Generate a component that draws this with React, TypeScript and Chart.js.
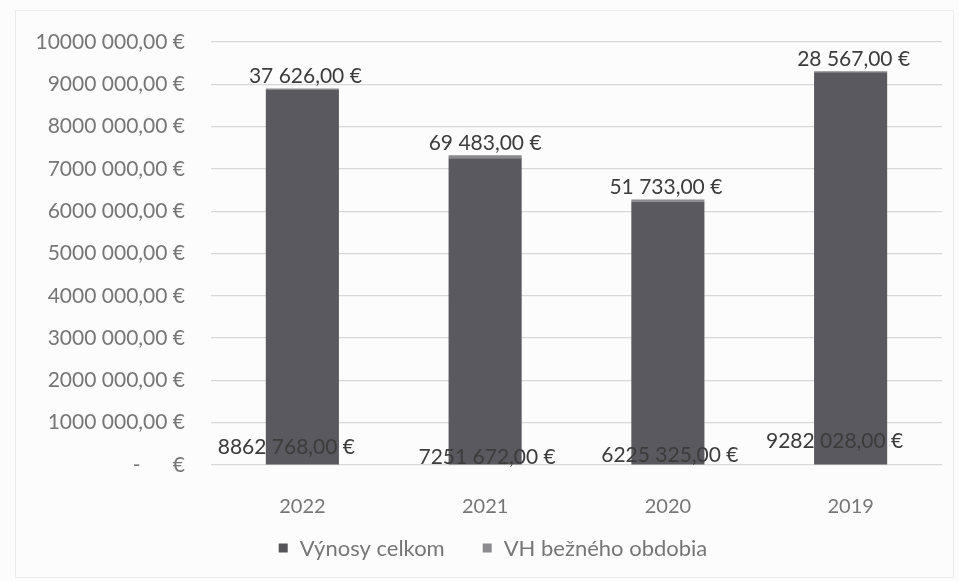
import React, { useEffect, useRef } from "react";
import { Chart, registerables } from "chart.js";

Chart.register(...registerables);

// ---- data ----
const categories = ["2022", "2021", "2020", "2019"];
const seriesNames = ["Výnosy celkom", "VH bežného obdobia"];
const revenues = [8862768, 7251672, 6225325, 9282028];
const profits = [37626, 69483, 51733, 28567];
const yTickLabels = [
  "-      €",
  "1000 000,00 €",
  "2000 000,00 €",
  "3000 000,00 €",
  "4000 000,00 €",
  "5000 000,00 €",
  "6000 000,00 €",
  "7000 000,00 €",
  "8000 000,00 €",
  "9000 000,00 €",
  "10000 000,00 €",
];

// ---- styles ----
const FONT = "Lato, 'Open Sans', 'Liberation Sans', sans-serif";
const BAR_COLOR = "#59595f";
const BAR2_COLOR = "#8a8a8e";
const LEGEND_COLORS = ["#555559", "#8c8c90"];
const TICK_COLOR = "#767676";
const LABEL_COLOR = "#3c3c3c";
const GRID_COLOR = "#d8d8d8";
// manual data-label nudges (px) as placed in the original
const revLabelDx = [-16, 2, 2, -16];
const revLabelDy = [-17, -7, -9, -23];
const profLabelDx = [3, 0, -2, 3];

function fmt(v: number): string {
  const th = Math.floor(v / 1000);
  const rest = String(v % 1000).padStart(3, "0");
  return `${th} ${rest},00 €`;
}

const labelPlugin = {
  id: "customLabels",
  beforeDraw(chart: any) {
    const ctx = chart.ctx;
    ctx.save();
    ctx.fillStyle = "#fcfcfc";
    ctx.fillRect(0, 0, chart.width, chart.height);
    ctx.strokeStyle = "#ececec";
    ctx.lineWidth = 1;
    ctx.strokeRect(15.5, 10.5, 938, 567);
    ctx.restore();
  },
  afterDatasetsDraw(chart: any) {
    const ctx = chart.ctx;
    const m0 = chart.getDatasetMeta(0);
    const m1 = chart.getDatasetMeta(1);
    ctx.save();
    ctx.font = `21px ${FONT}`;
    ctx.fillStyle = LABEL_COLOR;
    ctx.textAlign = "center";
    ctx.textBaseline = "middle";
    categories.forEach((_, i) => {
      const b0 = m0.data[i];
      const b1 = m1.data[i];
      ctx.fillText(fmt(revenues[i]), b0.x + revLabelDx[i], b0.base + revLabelDy[i]);
      ctx.fillText(fmt(profits[i]), b1.x + profLabelDx[i], b1.y - 12);
    });
    ctx.restore();
  },
  afterDraw(chart: any) {
    const ctx = chart.ctx;
    ctx.save();
    ctx.font = `22px ${FONT}`;
    ctx.textBaseline = "middle";
    ctx.textAlign = "left";
    const box = 9;
    const gapBoxText = 12;
    const gapItems = 38;
    const widths = seriesNames.map((n) => ctx.measureText(n).width);
    const total =
      widths.reduce((a, w) => a + box + gapBoxText + w, 0) + gapItems * (seriesNames.length - 1);
    let x = 493 - total / 2;
    const y = 548;
    seriesNames.forEach((n, i) => {
      ctx.fillStyle = LEGEND_COLORS[i];
      ctx.fillRect(x, y - box / 2, box, box);
      x += box + gapBoxText;
      ctx.fillStyle = TICK_COLOR;
      ctx.fillText(n, x, y + 1);
      x += widths[i] + gapItems;
    });
    ctx.restore();
  },
};

export default function App() {
  const ref = useRef<HTMLCanvasElement | null>(null);
  useEffect(() => {
    document.body.style.margin = "0";
    const canvas = ref.current!;
    const chart = new Chart(canvas, {
      type: "bar",
      data: {
        labels: categories,
        datasets: [
          {
            label: seriesNames[0],
            data: revenues,
            backgroundColor: BAR_COLOR,
            categoryPercentage: 1,
            barPercentage: 0.4,
          },
          {
            label: seriesNames[1],
            data: profits,
            backgroundColor: BAR2_COLOR,
            categoryPercentage: 1,
            barPercentage: 0.4,
          },
        ],
      },
      options: {
        animation: false,
        responsive: false,
        devicePixelRatio: 1,
        layout: { padding: { left: 0, right: 17, top: 42, bottom: 62 } },
        plugins: {
          legend: { display: false },
          tooltip: { enabled: false },
        },
        scales: {
          x: {
            stacked: true,
            grid: { display: false },
            border: { display: false },
            ticks: {
              color: TICK_COLOR,
              font: { family: FONT, size: 20 },
              padding: 22,
            },
            afterFit: (s: any) => {
              s.height = 54;
            },
          },
          y: {
            stacked: true,
            min: 0,
            max: 10000000,
            grid: { color: GRID_COLOR, drawTicks: false, lineWidth: 1.2 },
            border: { display: false },
            ticks: {
              stepSize: 1000000,
              color: TICK_COLOR,
              font: { family: FONT, size: 21 },
              padding: 26,
              callback: (_v: any, i: number) => yTickLabels[i],
            },
            afterFit: (s: any) => {
              s.width = 211;
            },
          },
        },
      },
      plugins: [labelPlugin],
    });
    return () => chart.destroy();
  }, []);
  return <canvas ref={ref} width={959} height={581} style={{ display: "block", width: 959, height: 581 }} />;
}
